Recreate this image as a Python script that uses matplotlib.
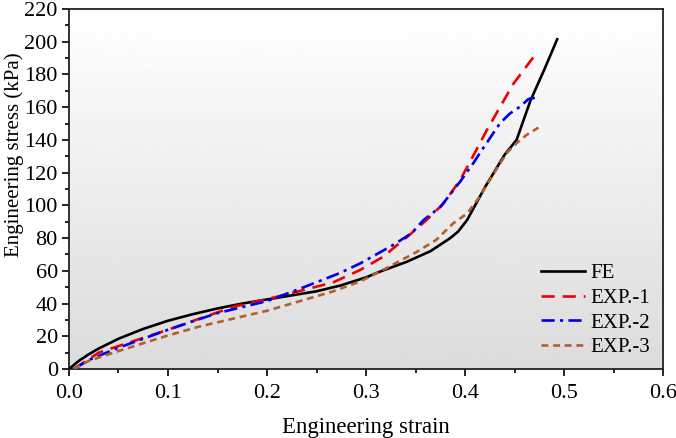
import numpy as np
import matplotlib
matplotlib.use('Agg')
import matplotlib.pyplot as plt

plt.rcParams['font.family'] = ['Liberation Serif', 'DejaVu Serif']

# strain / stress (kPa)
fe_x = [0.0, 0.01, 0.02, 0.03, 0.05, 0.075, 0.1, 0.125, 0.15, 0.175, 0.2, 0.25, 0.274,
        0.3, 0.314, 0.341, 0.365, 0.385, 0.393, 0.402, 0.42, 0.44, 0.452, 0.466, 0.48, 0.493]
fe_y = [0.0, 5, 9, 12.5, 18.5, 24.5, 29.5, 33.5, 37, 40, 42.5, 47.5, 51,
        56, 59.5, 65.5, 72, 80, 84, 91, 111, 131, 140, 164, 183, 201.5]

exp1_x = [0.005, 0.03, 0.05, 0.1, 0.166, 0.216, 0.267, 0.294, 0.317, 0.344, 0.361,
          0.378, 0.395, 0.408, 0.422, 0.439, 0.449, 0.472]
exp1_y = [0.0, 10, 14, 24, 38, 45, 53, 60.5, 68.5, 82, 91,
          101, 115.5, 130, 146, 164, 174.5, 193]

exp2_x = [0.005, 0.02, 0.05, 0.1, 0.149, 0.2, 0.233, 0.273, 0.294, 0.328, 0.346, 0.358,
          0.375, 0.395, 0.408, 0.415, 0.435, 0.445, 0.456, 0.464, 0.473]
exp2_y = [0.0, 5.5, 13, 24, 34, 41.5, 49, 58.5, 64.5, 76, 83, 91,
          99, 114.5, 125.5, 132, 150, 156, 160.5, 165, 166]

exp3_x = [0.005, 0.02, 0.05, 0.1, 0.132, 0.2, 0.267, 0.294, 0.317, 0.351, 0.371, 0.388,
          0.402, 0.415, 0.429, 0.442, 0.452, 0.462, 0.474]
exp3_y = [0.0, 5, 11, 20.5, 26, 35.6, 47.5, 53.5, 60.5, 71.5, 79, 89,
          95, 105.5, 119.5, 132, 138, 143, 147.5]

fig = plt.figure(figsize=(6.76, 4.38), dpi=100)
ax = fig.add_axes([0.102, 0.1575, 0.879, 0.822])

# background gradient white -> light grey
grad = np.linspace(1.0, 0.86, 256).reshape(-1, 1)
ax.imshow(grad, cmap='gray', vmin=0, vmax=1, aspect='auto',
          extent=[0, 1, 0, 1], transform=ax.transAxes, zorder=0, origin='upper')

ax.plot(fe_x, fe_y, color='black', lw=1.9, label='FE', zorder=3)
ax.plot(exp1_x, exp1_y, color='#ee0000', lw=1.9, ls=(0, (5, 3)), label='EXP.-1', zorder=3)
ax.plot(exp2_x, exp2_y, color='#0000ee', lw=1.9, ls=(0, (5, 2, 1.2, 2)), label='EXP.-2', zorder=3)
ax.plot(exp3_x, exp3_y, color='#b0602a', lw=1.9, ls=(0, (2.6, 1.8)), label='EXP.-3', zorder=3)

ax.set_xlim(0, 0.6)
ax.set_ylim(0, 220)
ax.set_xticks(np.arange(0, 0.61, 0.1))
ax.set_xticklabels(['0.0', '0.1', '0.2', '0.3', '0.4', '0.5', '0.6'])
ax.set_yticks(np.arange(0, 221, 20))
ax.set_xticks(np.arange(0.05, 0.6, 0.1), minor=True)
ax.set_yticks(np.arange(10, 220, 20), minor=True)
ax.tick_params(which='both', direction='out', labelsize=16, width=1.2)
ax.tick_params(which='major', length=5)
ax.tick_params(which='minor', length=3)
ax.tick_params(axis='x', pad=6)
ax.tick_params(axis='y', pad=3)
for s in ax.spines.values():
    s.set_linewidth(1.3)
    s.set_color('#222222')

ax.set_xlabel('Engineering strain', fontsize=16.5, labelpad=10)
ax.set_ylabel('Engineering stress (kPa)', fontsize=15)
ax.yaxis.set_label_coords(-0.0758, 0.594)

leg = ax.legend(loc='lower right', frameon=False, fontsize=15, handlelength=2.1,
                handletextpad=0.25, labelspacing=0.24, borderaxespad=0, borderpad=0,
                bbox_to_anchor=(0.978, 0.033))

plt.savefig('out.png', dpi=100)
